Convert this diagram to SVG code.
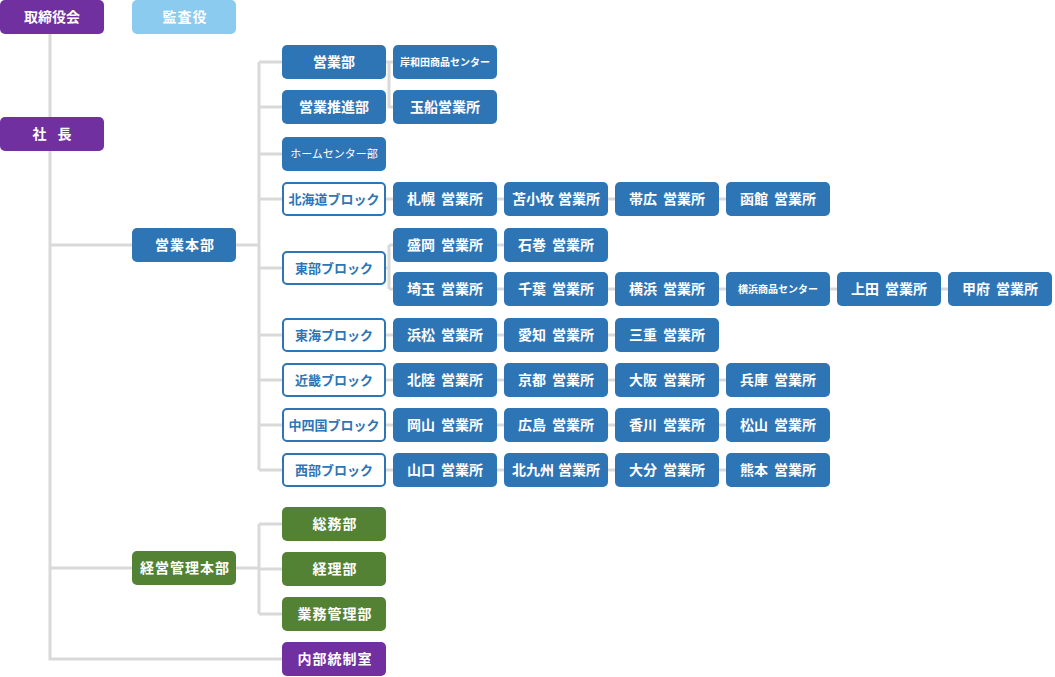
<svg xmlns="http://www.w3.org/2000/svg" width="1055" height="677" viewBox="0 0 1055 677">
<style>
.c{fill:none;stroke:#d9d9d9;stroke-width:3}
.p{fill:#7030a0}
.lb{fill:#8ccbf0}
.b{fill:#2e75b6}
.g{fill:#548235}
.o{fill:#fff;stroke:#2e75b6;stroke-width:2}
text{font-family:"Noto Sans CJK JP","Noto Sans",sans-serif;font-size:14px;font-weight:bold;fill:#fff;text-anchor:middle}
.ot{fill:#2e75b6;font-size:13px}
.sm{font-size:10px}
.nw{font-size:11px;font-weight:normal}
.sp{letter-spacing:1px}
</style>
<rect width="1055" height="677" fill="#fff"/>
<g id="connectors">
<path class="c" d="M50 34V659H282M50 245H132M50 568H132"/>
<path class="c" d="M236 245H259M259 62V470M259 62H282M259 107H282M259 154H282M259 199H282M259 268H282M259 335H282M259 380H282M259 425H282M259 470H282"/>
<path class="c" d="M385 62H393M389 62V107H393"/>
<path class="c" d="M385 268H389M389 245V289M389 245H393M389 289H393"/>
<path class="c" d="M385 199H830M496 245H504M496 289H948M385 335H718M385 380H830M385 425H830M385 470H830"/>
<path class="c" d="M236 568H259M259 524V614M259 524H282M259 569H282M259 614H282"/>
</g>
<g id="n-torishimariyakukai"><rect class="p" x="0" y="0" width="104" height="34" rx="5"/><text x="52" y="22">取締役会</text></g>
<g id="n-kansayaku"><rect class="lb" x="132" y="0" width="104" height="34" rx="5"/><text x="185" y="22" class="sp">監査役</text></g>
<g id="n-shacho"><rect class="p" x="0" y="117" width="104" height="34" rx="5"/><text x="52" y="139">社 <tspan dx="8">長</tspan></text></g>
<g id="n-eigyohonbu"><rect class="b" x="132" y="228" width="104" height="34" rx="5"/><text x="185" y="250" class="sp">営業本部</text></g>
<g id="n-keieikanrihonbu"><rect class="g" x="132" y="551" width="104" height="34" rx="5"/><text x="185" y="573" class="sp">経営管理本部</text></g>
<g id="n-eigyobu"><rect class="b" x="282" y="45" width="104" height="34" rx="5"/><text x="334" y="67">営業部</text></g>
<g id="n-eigyosuishinbu"><rect class="b" x="282" y="90" width="104" height="34" rx="5"/><text x="334" y="112">営業推進部</text></g>
<g id="n-homecenter"><rect class="b" x="282" y="137" width="104" height="34" rx="5"/><text x="334" y="158" class="nw">ホームセンター部</text></g>
<g id="n-hokkaido"><rect class="o" x="283" y="183" width="102" height="32" rx="4"/><text x="334" y="204" class="ot">北海道ブロック</text></g>
<g id="n-tobu"><rect class="o" x="283" y="252" width="102" height="32" rx="4"/><text x="334" y="273" class="ot">東部ブロック</text></g>
<g id="n-tokai"><rect class="o" x="283" y="319" width="102" height="32" rx="4"/><text x="334" y="340" class="ot">東海ブロック</text></g>
<g id="n-kinki"><rect class="o" x="283" y="364" width="102" height="32" rx="4"/><text x="334" y="385" class="ot">近畿ブロック</text></g>
<g id="n-chushikoku"><rect class="o" x="283" y="409" width="102" height="32" rx="4"/><text x="334" y="430" class="ot">中四国ブロック</text></g>
<g id="n-seibu"><rect class="o" x="283" y="454" width="102" height="32" rx="4"/><text x="334" y="475" class="ot">西部ブロック</text></g>
<g id="n-kishiwada"><rect class="b" x="393" y="45" width="104" height="34" rx="5"/><text x="445" y="66" class="sm">岸和田商品センター</text></g>
<g id="n-tamafune"><rect class="b" x="393" y="90" width="104" height="34" rx="5"/><text x="445" y="112">玉船営業所</text></g>
<g id="n-sapporo"><rect class="b" x="393" y="182" width="104" height="34" rx="5"/><text x="445" y="204">札幌 <tspan dx="3">営業所</tspan></text></g>
<g id="n-tomakomai"><rect class="b" x="504" y="182" width="104" height="34" rx="5"/><text x="556" y="204">苫小牧 <tspan dx="1">営業所</tspan></text></g>
<g id="n-obihiro"><rect class="b" x="615" y="182" width="104" height="34" rx="5"/><text x="667" y="204">帯広 <tspan dx="3">営業所</tspan></text></g>
<g id="n-hakodate"><rect class="b" x="726" y="182" width="104" height="34" rx="5"/><text x="778" y="204">函館 <tspan dx="3">営業所</tspan></text></g>
<g id="n-morioka"><rect class="b" x="393" y="228" width="104" height="34" rx="5"/><text x="445" y="250">盛岡 <tspan dx="3">営業所</tspan></text></g>
<g id="n-ishinomaki"><rect class="b" x="504" y="228" width="104" height="34" rx="5"/><text x="556" y="250">石巻 <tspan dx="3">営業所</tspan></text></g>
<g id="n-saitama"><rect class="b" x="393" y="272" width="104" height="34" rx="5"/><text x="445" y="294">埼玉 <tspan dx="3">営業所</tspan></text></g>
<g id="n-chiba"><rect class="b" x="504" y="272" width="104" height="34" rx="5"/><text x="556" y="294">千葉 <tspan dx="3">営業所</tspan></text></g>
<g id="n-yokohama"><rect class="b" x="615" y="272" width="104" height="34" rx="5"/><text x="667" y="294">横浜 <tspan dx="3">営業所</tspan></text></g>
<g id="n-yokohamashohin"><rect class="b" x="726" y="272" width="104" height="34" rx="5"/><text x="778" y="293" class="sm">横浜商品センター</text></g>
<g id="n-ueda"><rect class="b" x="837" y="272" width="104" height="34" rx="5"/><text x="889" y="294">上田 <tspan dx="3">営業所</tspan></text></g>
<g id="n-kofu"><rect class="b" x="948" y="272" width="104" height="34" rx="5"/><text x="1000" y="294">甲府 <tspan dx="3">営業所</tspan></text></g>
<g id="n-hamamatsu"><rect class="b" x="393" y="318" width="104" height="34" rx="5"/><text x="445" y="340">浜松 <tspan dx="3">営業所</tspan></text></g>
<g id="n-aichi"><rect class="b" x="504" y="318" width="104" height="34" rx="5"/><text x="556" y="340">愛知 <tspan dx="3">営業所</tspan></text></g>
<g id="n-mie"><rect class="b" x="615" y="318" width="104" height="34" rx="5"/><text x="667" y="340">三重 <tspan dx="3">営業所</tspan></text></g>
<g id="n-hokuriku"><rect class="b" x="393" y="363" width="104" height="34" rx="5"/><text x="445" y="385">北陸 <tspan dx="3">営業所</tspan></text></g>
<g id="n-kyoto"><rect class="b" x="504" y="363" width="104" height="34" rx="5"/><text x="556" y="385">京都 <tspan dx="3">営業所</tspan></text></g>
<g id="n-osaka"><rect class="b" x="615" y="363" width="104" height="34" rx="5"/><text x="667" y="385">大阪 <tspan dx="3">営業所</tspan></text></g>
<g id="n-hyogo"><rect class="b" x="726" y="363" width="104" height="34" rx="5"/><text x="778" y="385">兵庫 <tspan dx="3">営業所</tspan></text></g>
<g id="n-okayama"><rect class="b" x="393" y="408" width="104" height="34" rx="5"/><text x="445" y="430">岡山 <tspan dx="3">営業所</tspan></text></g>
<g id="n-hiroshima"><rect class="b" x="504" y="408" width="104" height="34" rx="5"/><text x="556" y="430">広島 <tspan dx="3">営業所</tspan></text></g>
<g id="n-kagawa"><rect class="b" x="615" y="408" width="104" height="34" rx="5"/><text x="667" y="430">香川 <tspan dx="3">営業所</tspan></text></g>
<g id="n-matsuyama"><rect class="b" x="726" y="408" width="104" height="34" rx="5"/><text x="778" y="430">松山 <tspan dx="3">営業所</tspan></text></g>
<g id="n-yamaguchi"><rect class="b" x="393" y="453" width="104" height="34" rx="5"/><text x="445" y="475">山口 <tspan dx="3">営業所</tspan></text></g>
<g id="n-kitakyushu"><rect class="b" x="504" y="453" width="104" height="34" rx="5"/><text x="556" y="475">北九州 <tspan dx="1">営業所</tspan></text></g>
<g id="n-oita"><rect class="b" x="615" y="453" width="104" height="34" rx="5"/><text x="667" y="475">大分 <tspan dx="3">営業所</tspan></text></g>
<g id="n-kumamoto"><rect class="b" x="726" y="453" width="104" height="34" rx="5"/><text x="778" y="475">熊本 <tspan dx="3">営業所</tspan></text></g>
<g id="n-somubu"><rect class="g" x="282" y="507" width="104" height="34" rx="5"/><text x="335" y="529" class="sp">総務部</text></g>
<g id="n-keiribu"><rect class="g" x="282" y="552" width="104" height="34" rx="5"/><text x="335" y="574" class="sp">経理部</text></g>
<g id="n-gyomukanribu"><rect class="g" x="282" y="597" width="104" height="34" rx="5"/><text x="335" y="619" class="sp">業務管理部</text></g>
<g id="n-naibutosei"><rect class="p" x="282" y="642" width="104" height="34" rx="5"/><text x="335" y="664" class="sp">内部統制室</text></g>
</svg>
